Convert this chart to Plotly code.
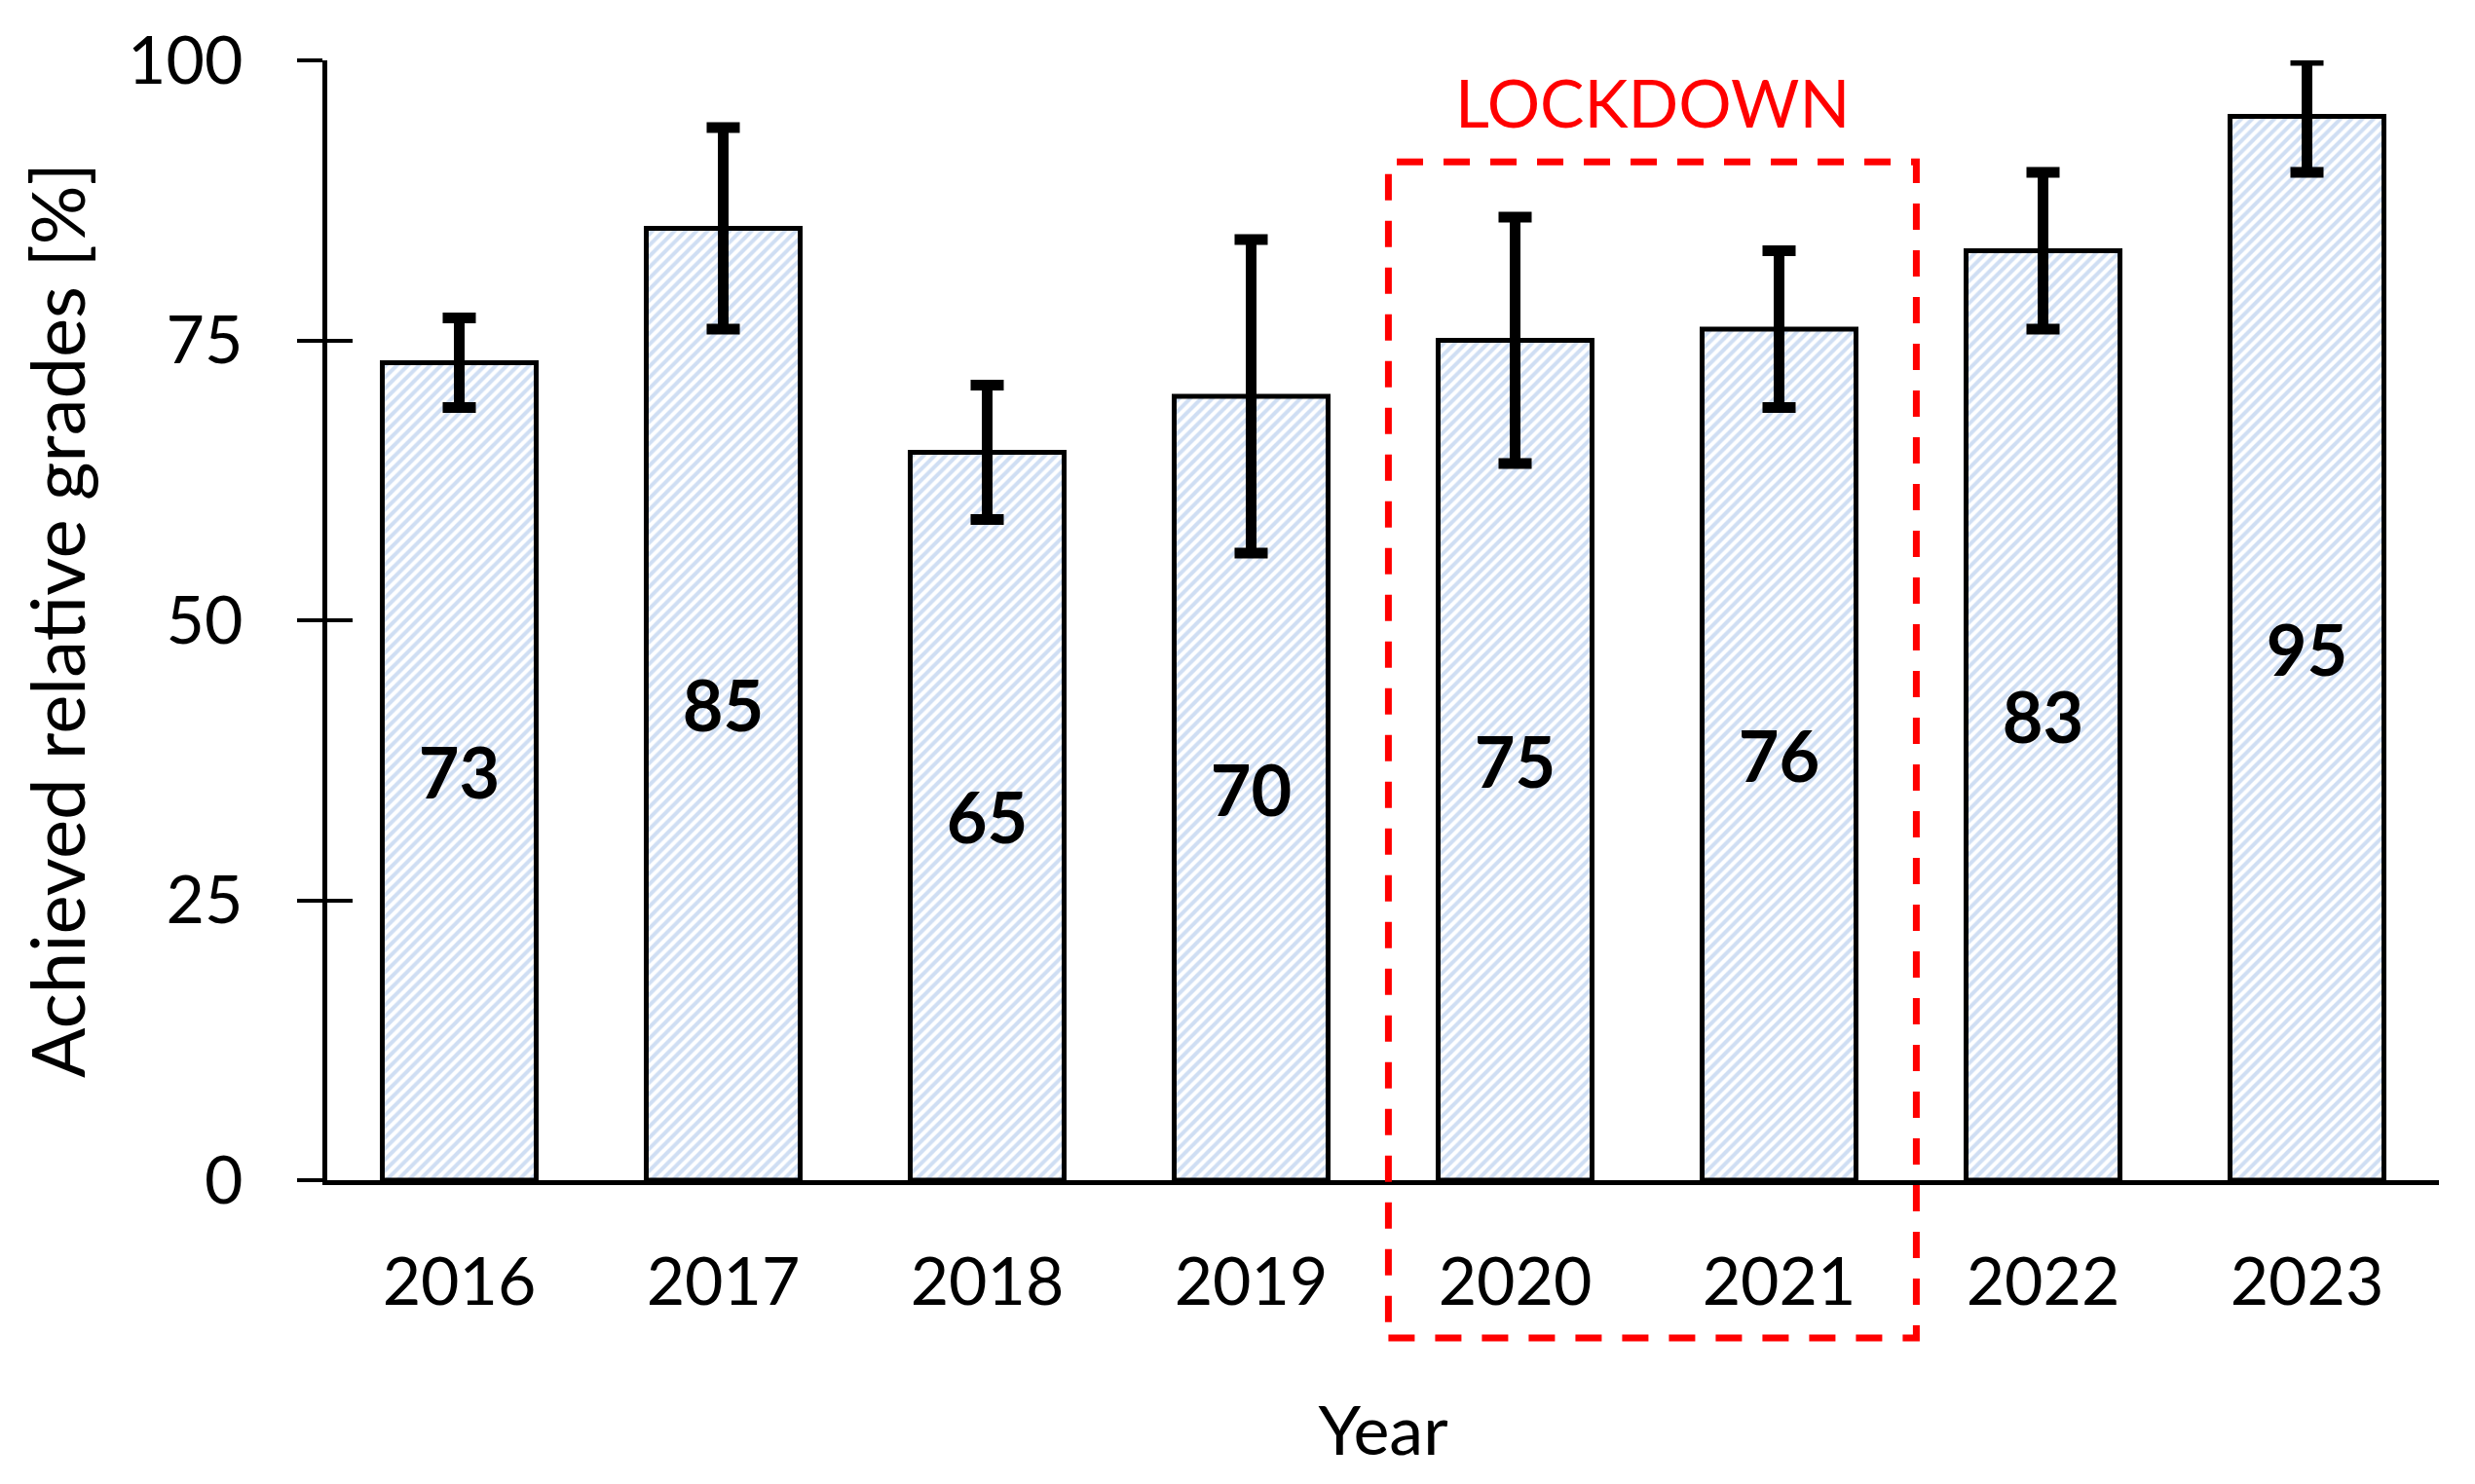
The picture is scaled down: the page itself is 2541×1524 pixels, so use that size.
import plotly.graph_objects as go

years = ["2016", "2017", "2018", "2019", "2020", "2021", "2022", "2023"]
grades = [73, 85, 65, 70, 75, 76, 83, 95]
errors = [4, 9, 6, 14, 11, 7, 7, 5]
y_ticks = [0, 25, 50, 75, 100]
lockdown_years = ["2020", "2021"]

FONT = "Lato"
FS = 66

fig = go.Figure()
fig.add_trace(go.Bar(
    x=years, y=grades,
    text=[str(v) for v in grades],
    textposition="inside", insidetextanchor="middle", textangle=0,
    textfont=dict(family=FONT, size=72, color="black", weight="bold"),
    marker=dict(color="white",
                line=dict(color="black", width=5),
                pattern=dict(shape="/", fgcolor="#a0bde7", bgcolor="white",
                             size=8, solidity=0.5)),
    error_y=dict(type="data", array=errors, visible=True,
                 color="black", thickness=11, width=17),
    cliponaxis=False,
    showlegend=False,
))
# invisible companion trace so the overlaid axis (inner half of the cross ticks) is drawn
fig.add_trace(go.Scatter(x=years, y=grades, yaxis="y2", mode="none",
                         hoverinfo="skip", showlegend=False))

# lockdown box (paper coords derived from category positions)
n = len(years)
i0 = years.index(lockdown_years[0])
i1 = years.index(lockdown_years[-1])
x0p = (i0 - 0.48 + 0.5) / n
x1p = (i1 + 0.52 + 0.5) / n
fig.add_shape(type="rect", xref="paper", yref="paper",
              x0=x0p, x1=x1p, y0=-0.1408, y1=0.9093,
              line=dict(color="#ff0000", width=7, dash="27px,21px"),
              fillcolor="rgba(0,0,0,0)", layer="above")
fig.add_annotation(text="LOCKDOWN", xref="paper", yref="paper",
                   x=(x0p + x1p) / 2, y=0.963, showarrow=False,
                   font=dict(family=FONT, size=68, color="#ff0000"),
                   xanchor="center", yanchor="middle")

fig.update_layout(
    width=2541, height=1524,
    margin=dict(l=328, r=45, t=54, b=320),
    paper_bgcolor="white", plot_bgcolor="white",
    bargap=0.417,
    font=dict(family=FONT, size=FS, color="black"),
    xaxis=dict(
        showline=True, linecolor="black", linewidth=5,
        ticks="", showgrid=False, zeroline=False,
        range=[-0.5, 7.5],
        tickfont=dict(family=FONT, size=68, color="black"),
        ticklabelstandoff=41,
        title=dict(text="Year", font=dict(family=FONT, size=70, color="black"), standoff=94),
    ),
    yaxis=dict(
        range=[0, 100], tickvals=y_ticks,
        showline=True, linecolor="black", linewidth=5,
        ticks="outside", ticklen=26, tickwidth=4, tickcolor="black",
        showgrid=False, zeroline=False,
        tickfont=dict(family=FONT, size=68, color="black"),
        ticklabelstandoff=42,
        title=dict(text="Achieved relative grades [%]",
                   font=dict(family=FONT, size=76, color="black"), standoff=20),
    ),
    yaxis2=dict(
        range=[0, 100], tickvals=y_ticks, overlaying="y", side="left", anchor="x",
        showline=False, ticks="inside", ticklen=26, tickwidth=4, tickcolor="black",
        showticklabels=False, showgrid=False, zeroline=False,
    ),
)

fig.write_html("out.html")
